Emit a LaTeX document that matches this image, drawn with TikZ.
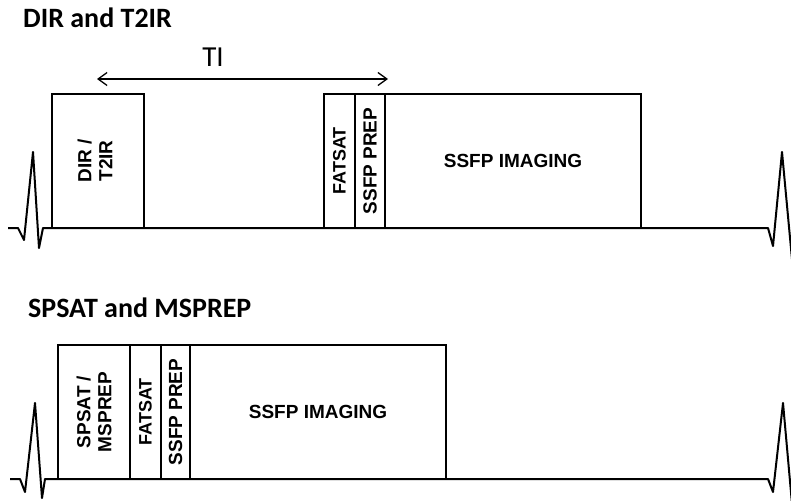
\documentclass[tikz,border=0pt]{standalone}
\usepackage{fontspec}
\usetikzlibrary{arrows.meta}
\newfontfamily\headfont{Carlito}
\newfontfamily\lblfont{Liberation Sans}
\tikzstyle{blk}=[draw,line width=1.4pt,inner sep=0pt,align=center,font=\lblfont\bfseries\fontsize{19}{21}\selectfont]
\tikzstyle{vblk}=[blk,rotate=90,minimum width=134pt]
\tikzstyle{ttl}=[anchor=base west,inner sep=0pt,font=\headfont\bfseries\fontsize{28}{30}\selectfont]
\tikzstyle{ecg}=[line width=2pt,line join=round]
\tikzstyle{biarr}=[{Straight Barb[length=9pt,width=13pt]}-{Straight Barb[length=9pt,width=13pt]},line width=1.3pt]

\begin{document}
\begin{tikzpicture}[x=1pt,y=-1pt]
    \useasboundingbox (0,0) rectangle (791,500);
    % DIR and T2IR
    \node[ttl] (title1) at (23,28) {DIR and T2IR};
    \draw[ecg] (8,228) -- (18,228) -- (24,240) -- (33,152) -- (39,248) -- (43,228)
      -- (768,228) -- (773,246) -- (782,152) -- (793,270);
    \node[blk,minimum width=92pt,minimum height=134pt] (dir) at (98,161) {};
    \node[vblk,draw=none] (dirlbl) at (95,161) {DIR /\\T2IR};
    \node[vblk,minimum height=31pt,font=\lblfont\bfseries\fontsize{18}{20}\selectfont] (fat1) at (339.5,161) {FATSAT};
    \node[vblk,minimum height=30pt] (prep1) at (370,161) {SSFP PREP};
    \node[blk,minimum width=256pt,minimum height=134pt] (img1) at (513,161) {SSFP IMAGING};
    \coordinate (til) at (97,79);
    \coordinate (tir) at (388,79);
    \draw[biarr] (til) -- (tir);
    \node[inner sep=0pt,anchor=base,font=\headfont\fontsize{29}{31}\selectfont] (ti) at (213,67) {TI};
    % SPSAT and MSPREP
    \node[ttl] (title2) at (28,317) {SPSAT and MSPREP};
    \draw[ecg] (10,479) -- (20,479) -- (25,492) -- (35,403) -- (42,498) -- (45,479)
      -- (768,479) -- (773,492) -- (783,403) -- (793,515);
    \node[vblk,minimum height=72pt] (sps) at (94,412) {SPSAT /\\MSPREP};
    \node[vblk,minimum height=31pt,font=\lblfont\bfseries\fontsize{18}{20}\selectfont] (fat2) at (145.5,412) {FATSAT};
    \node[vblk,minimum height=29pt] (prep2) at (175.5,412) {SSFP PREP};
    \node[blk,minimum width=256pt,minimum height=134pt] (img2) at (318,412) {SSFP IMAGING};
  \end{tikzpicture}
\end{document}
